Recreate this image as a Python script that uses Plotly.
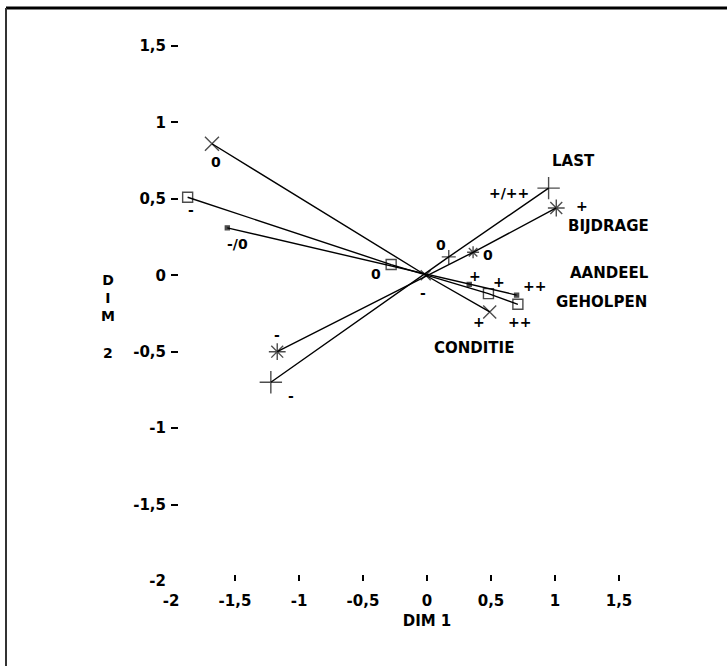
import plotly.graph_objects as go

# ---------------- data ----------------
conditie_cats = ["0", "-", "+"]
conditie_x = [-1.68, -0.01, 0.49]
conditie_y = [0.86, 0.00, -0.24]

geholpen_cats = ["-", "0", "+", "++"]
geholpen_x = [-1.87, -0.28, 0.48, 0.71]
geholpen_y = [0.51, 0.07, -0.12, -0.19]

aandeel_cats = ["-/0", "+", "++"]
aandeel_x = [-1.56, 0.33, 0.70]
aandeel_y = [0.31, -0.06, -0.13]

last_cats = ["-", "0", "+/++"]
last_x = [-1.22, 0.17, 0.95]
last_y = [-0.70, 0.12, 0.57]

bijdrage_cats = ["-", "0", "+"]
bijdrage_x = [-1.17, 0.36, 1.01]
bijdrage_y = [-0.50, 0.15, 0.44]

variable_names = ["CONDITIE", "GEHOLPEN", "AANDEEL", "LAST", "BIJDRAGE"]

x_tickvals = [-2, -1.5, -1, -0.5, 0, 0.5, 1, 1.5]
x_ticktext = ["-2", "-1,5", "-1", "-0,5", "0", "0,5", "1", "1,5"]
y_tickvals = [-2, -1.5, -1, -0.5, 0, 0.5, 1, 1.5]
y_ticktext = ["-2", "-1,5", "-1", "-0,5", "0", "0,5", "1", "1,5"]

# ---------------- styles ----------------
W, H = 727, 666
ML, MR, MT, MB = 171, 44, 23, 85
FONT = "DejaVu Sans"
FS = 15
FS_SMALL = 14

series = [
    dict(name=variable_names[0], x=conditie_x, y=conditie_y, cats=conditie_cats,
         symbol="x-thin-open", sizes=[14, 10, 13],
         offs=[(4, 18), (-3, 18), (-11, 10)], name_off=(-16, 36)),
    dict(name=variable_names[1], x=geholpen_x, y=geholpen_y, cats=geholpen_cats,
         symbol="square-open", sizes=[10, 10, 10, 10],
         offs=[(3, 13), (-15, 9), (11, -12), (2, 18)], name_off=(84, -2)),
    dict(name=variable_names[2], x=aandeel_x, y=aandeel_y, cats=aandeel_cats,
         symbol="square", sizes=[4, 4, 4],
         offs=[(10, 16), (6, -8), (18, -9)], name_off=(93, -22)),
    dict(name=variable_names[3], x=last_x, y=last_y, cats=last_cats,
         symbol="cross-thin-open", sizes=[16, 10, 16],
         offs=[(20, 14), (-8, -12), (-40, 5)], name_off=(25, -27)),
    dict(name=variable_names[4], x=bijdrage_x, y=bijdrage_y, cats=bijdrage_cats,
         symbol="asterisk-open", sizes=[14, 10, 14],
         offs=[(0, -17), (15, 3), (26, -2)], name_off=(52, 18)),
]

fig = go.Figure()
annotations = []
for s in series:
    fig.add_trace(go.Scatter(
        x=s["x"], y=s["y"], mode="lines+markers", showlegend=False,
        line=dict(color="black", width=1.4),
        marker=dict(symbol=s["symbol"], size=s["sizes"], color="black",
                    line=dict(color="black", width=1.4)),
        hoverinfo="skip",
    ))
    for xv, yv, c, (dx, dy) in zip(s["x"], s["y"], s["cats"], s["offs"]):
        annotations.append(dict(x=xv, y=yv, text=c, showarrow=False,
                                xshift=dx, yshift=-dy,
                                font=dict(family=FONT, size=FS_SMALL, color="black", weight="bold")))
    dx, dy = s["name_off"]
    annotations.append(dict(x=s["x"][-1], y=s["y"][-1], text=s["name"], showarrow=False,
                            xshift=dx, yshift=-dy,
                            font=dict(family=FONT, size=FS, color="black", weight="bold")))

pw = W - ML - MR
ph = H - MT - MB


def px2paper(px, py):
    return (px - ML) / pw, (H - MB - py) / ph


# y-axis title stacked vertically
tx, ty = px2paper(99, 316)
annotations.append(dict(x=tx, y=ty, xref="paper", yref="paper", showarrow=False,
                        text="D<br>I<br>M<br><br>2", align="center", yanchor="middle",
                        font=dict(family=FONT, size=14, color="black", weight="bold")))

# frame (top and left edges of the scanned page)
x0, y0 = px2paper(6, 8)
x1, y1 = px2paper(W + 5, H + 5)
shapes = [
    dict(type="line", xref="paper", yref="paper", x0=x0, y0=y0, x1=x1, y1=y0,
         line=dict(color="black", width=3)),
    dict(type="line", xref="paper", yref="paper", x0=x0, y0=y0, x1=x0, y1=y1,
         line=dict(color="#333333", width=2)),
]

fig.update_layout(
    width=W, height=H,
    margin=dict(l=ML, r=MR, t=MT, b=MB, pad=0),
    paper_bgcolor="white", plot_bgcolor="white",
    font=dict(family=FONT, size=FS, color="black", weight="bold"),
    annotations=annotations, shapes=shapes,
    xaxis=dict(range=[-2, 2], tickvals=x_tickvals, ticktext=x_ticktext,
               ticks="inside", ticklen=6, tickwidth=1.5, tickcolor="black",
               showgrid=False, zeroline=False, showline=False,
               ticklabelstandoff=9,
               tickfont=dict(family=FONT, size=FS, color="black", weight="bold"),
               title=dict(text="DIM 1", standoff=6,
                          font=dict(family=FONT, size=FS, color="black", weight="bold"))),
    yaxis=dict(range=[-2, 1.65], tickvals=y_tickvals, ticktext=y_ticktext,
               ticks="inside", ticklen=7, tickwidth=1.5, tickcolor="black",
               showgrid=False, zeroline=False, showline=False,
               ticklabelstandoff=4,
               tickfont=dict(family=FONT, size=FS, color="black", weight="bold")),
)

fig.write_html("out.html")
